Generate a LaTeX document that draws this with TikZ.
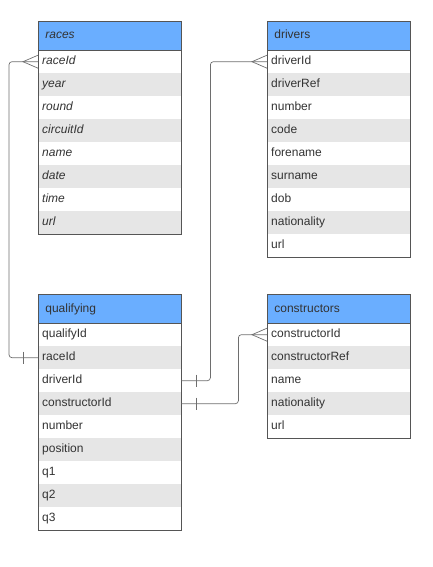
\documentclass[tikz,border=0pt]{standalone}
\usepackage{fontspec}
\setmainfont{Liberation Sans}
\definecolor{hdrblue}{HTML}{6AAEFF}
\definecolor{rowgray}{HTML}{E6E6E6}
\definecolor{edge}{HTML}{555555}
\definecolor{txt}{HTML}{333333}
\definecolor{wire}{HTML}{6E6E6E}
\begin{document}
\begin{tikzpicture}[x=1pt,y=-1pt,
  tablefont/.style={font=\fontsize{12}{14}\selectfont},
  hdr/.style={tablefont, draw=edge, line width=0.8pt, fill=hdrblue, text=txt,
    anchor=north west, minimum width=143pt, minimum height=29pt,
    text height=8.8pt, text depth=2.6pt,
    inner ysep=0pt, inner xsep=7pt, text width=129pt, align=left},
  fieldrow/.style={tablefont, text=txt, anchor=north west,
    minimum width=143pt, minimum height=23pt,
    text height=8.8pt, text depth=2.6pt,
    inner ysep=0pt, inner xsep=4pt, text width=135pt, align=left},
  frame/.style={draw=edge, line width=0.8pt},
  wireline/.style={draw=wire, line width=0.7pt, rounded corners=3pt},
  tick/.style={draw=wire, line width=0.7pt}]

% page extent
\useasboundingbox (0,0) rectangle (433,567);

% an entity table: name, x, y, title, fields, shape of text
\newcommand\erdtable[6]{%
  \node[hdr] (#1-h) at (#2,#3) {#6#4};
  \foreach \fld [count=\i] in {#5} {%
    \ifodd\i\def\rowfill{white}\else\def\rowfill{rowgray}\fi
    \node[fieldrow, fill=\rowfill] (#1-\i) at (#2,#3+29+23*\i-23) {#6\fld};
  }%
}

\erdtable{races}{38}{21}{races}{raceId,year,round,circuitId,name,date,time,url}{\itshape}
\draw[frame] (races-h.north west) rectangle (races-8.south east);
\draw[frame] (races-h.south west) -- (races-h.south east);

\erdtable{drivers}{267}{21}{drivers}{driverId,driverRef,number,code,forename,surname,dob,nationality,url}{}
\draw[frame] (drivers-h.north west) rectangle (drivers-9.south east);
\draw[frame] (drivers-h.south west) -- (drivers-h.south east);

\erdtable{quali}{38}{294}{qualifying}{qualifyId,raceId,driverId,constructorId,number,position,q1,q2,q3}{}
\draw[frame] (quali-h.north west) rectangle (quali-9.south east);
\draw[frame] (quali-h.south west) -- (quali-h.south east);

\erdtable{cons}{267}{294}{constructors}{constructorId,constructorRef,name,nationality,url}{}
\draw[frame] (cons-h.north west) rectangle (cons-5.south east);
\draw[frame] (cons-h.south west) -- (cons-h.south east);

% relationships: one (bar) on qualifying, many (crow's foot) on the referenced key
\draw[wireline] (quali-2.west) -- ++(-29,0) |- (races-1.west);
\draw[tick] ([shift={(-15,-6)}]quali-2.west) -- ([shift={(-15,6)}]quali-2.west);
\draw[tick] ([shift={(0,-6.5)}]races-1.west) -- ([shift={(-15,0)}]races-1.west) -- ([shift={(0,6.5)}]races-1.west);

\draw[wireline] (quali-3.east) -- ++(29,0) |- (drivers-1.west);
\draw[tick] ([shift={(15,-6)}]quali-3.east) -- ([shift={(15,6)}]quali-3.east);
\draw[tick] ([shift={(0,-6.5)}]drivers-1.west) -- ([shift={(-15,0)}]drivers-1.west) -- ([shift={(0,6.5)}]drivers-1.west);

\draw[wireline] (quali-4.east) -- ++(57,0) |- (cons-1.west);
\draw[tick] ([shift={(15,-6)}]quali-4.east) -- ([shift={(15,6)}]quali-4.east);
\draw[tick] ([shift={(0,-6.5)}]cons-1.west) -- ([shift={(-15,0)}]cons-1.west) -- ([shift={(0,6.5)}]cons-1.west);
\end{tikzpicture}
\end{document}
